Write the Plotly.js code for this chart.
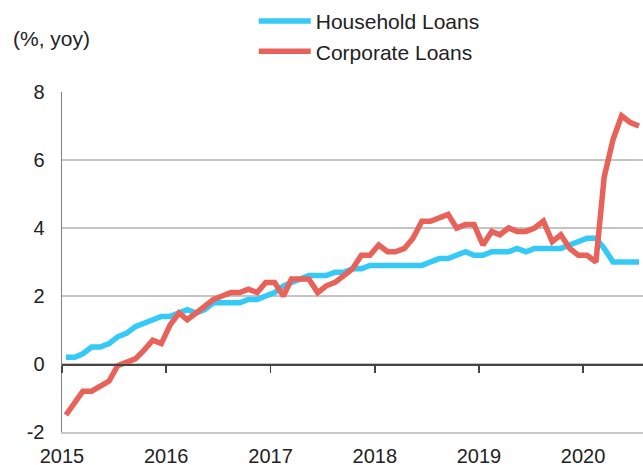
<!DOCTYPE html>
<html>
<head>
<meta charset="utf-8">
<script src="https://cdn.plot.ly/plotly-3.0.1.min.js"></script>
<style>html,body{margin:0;padding:0;background:#fff;}#chart{width:643px;height:465px;}</style>
</head>
<body>
<div id="chart"></div>
<script>
// Monthly observations, Jan 2015 .. Jul 2020
var startYear = 2015;
var household = [
  0.2, 0.2, 0.3, 0.5, 0.5, 0.6, 0.8, 0.9, 1.1, 1.2, 1.3, 1.4,
  1.4, 1.5, 1.6, 1.5, 1.6, 1.8, 1.8, 1.8, 1.8, 1.9, 1.9, 2.0,
  2.1, 2.3, 2.4, 2.5, 2.6, 2.6, 2.6, 2.7, 2.7, 2.8, 2.8, 2.9,
  2.9, 2.9, 2.9, 2.9, 2.9, 2.9, 3.0, 3.1, 3.1, 3.2, 3.3, 3.2,
  3.2, 3.3, 3.3, 3.3, 3.4, 3.3, 3.4, 3.4, 3.4, 3.4, 3.5, 3.6,
  3.7, 3.7, 3.4, 3.0, 3.0, 3.0, 3.0
];
var corporate = [
  -1.5, -1.1, -0.8, -0.8, -0.65, -0.5, -0.05, 0.05, 0.15, 0.4, 0.7, 0.6,
  1.15, 1.5, 1.3, 1.5, 1.7, 1.9, 2.0, 2.1, 2.1, 2.2, 2.1, 2.4,
  2.4, 2.0, 2.5, 2.5, 2.5, 2.1, 2.3, 2.4, 2.6, 2.8, 3.2, 3.2,
  3.5, 3.3, 3.3, 3.4, 3.7, 4.2, 4.2, 4.3, 4.4, 4.0, 4.1, 4.1,
  3.5, 3.9, 3.8, 4.0, 3.9, 3.9, 4.0, 4.2, 3.6, 3.8, 3.4, 3.2,
  3.2, 3.0, 5.5, 6.6, 7.3, 7.1, 7.0
];
var seriesNames = ['Household Loans', 'Corporate Loans'];
var yTicks = [-2, 0, 2, 4, 6, 8];
var yTickText = ['-2', '0', '2', '4', '6', '8'];
var yearTicks = ['2015', '2016', '2017', '2018', '2019', '2020'];
var unitLabel = '(%, yoy)';

// dates at mid-month
var dates = [];
for (var i = 0; i < household.length; i++) {
  var y = startYear + Math.floor(i / 12);
  var m = (i % 12) + 1;
  dates.push(y + '-' + (m < 10 ? '0' + m : m) + '-15');
}
var yearDates = yearTicks.map(function (t) { return t + '-01-01'; });

var font = 'Liberation Sans, Arial, sans-serif';
var xRange = ['2015-01-01', '2020-07-29'];

var traces = [
  {x: dates, y: household, name: seriesNames[0], type: 'scatter', mode: 'lines',
   line: {color: '#35C9F7', width: 5.5}},
  {x: dates, y: corporate, name: seriesNames[1], type: 'scatter', mode: 'lines',
   line: {color: '#E8625A', width: 5.5}},
  // invisible trace to host the tick axis drawn at y = 0
  {x: xRange, y: [null, null], xaxis: 'x2', showlegend: false, hoverinfo: 'skip',
   mode: 'lines'}
];

var layout = {
  width: 643, height: 465,
  margin: {l: 62, r: 0, t: 92, b: 33},
  paper_bgcolor: '#ffffff', plot_bgcolor: '#ffffff',
  font: {family: font, size: 20, color: '#222222'},
  showlegend: true,
  legend: {x: 0.33, xanchor: 'left', y: 1.268, yanchor: 'top', itemwidth: 52,
           font: {family: font, size: 21, color: '#222222'},
           bgcolor: 'rgba(0,0,0,0)', tracegroupgap: 0},
  xaxis: {type: 'date', range: xRange, showgrid: false, zeroline: false,
          tickvals: yearDates, ticktext: yearTicks, ticks: '', ticklabelstandoff: 5,
          showline: true, linecolor: '#c8c8c8', linewidth: 1.5,
          tickfont: {family: font, size: 20, color: '#222222'}},
  xaxis2: {type: 'date', range: xRange, overlaying: 'x', anchor: 'free', position: 0.2,
           showgrid: false, zeroline: false, showticklabels: false,
           tickvals: yearDates, ticks: 'outside', ticklen: 7, tickwidth: 1.5, tickcolor: '#444444',
           showline: true, linecolor: '#444444', linewidth: 1.5},
  yaxis: {range: [-2, 8], tickvals: yTicks, ticktext: yTickText, showgrid: true,
          gridcolor: '#c4c4c4', gridwidth: 1.5,
          zeroline: false, showline: true, linecolor: '#808080', linewidth: 1.5,
          ticks: '', ticklabelstandoff: 12,
          tickfont: {family: font, size: 20, color: '#222222'}},
  annotations: [
    {text: unitLabel, xref: 'paper', yref: 'paper', x: -0.088, y: 1.157,
     xanchor: 'left', yanchor: 'middle', showarrow: false,
     font: {family: font, size: 21, color: '#222222'}}
  ]
};

Plotly.newPlot('chart', traces, layout, {displayModeBar: false, staticPlot: true});
</script>
</body>
</html>
